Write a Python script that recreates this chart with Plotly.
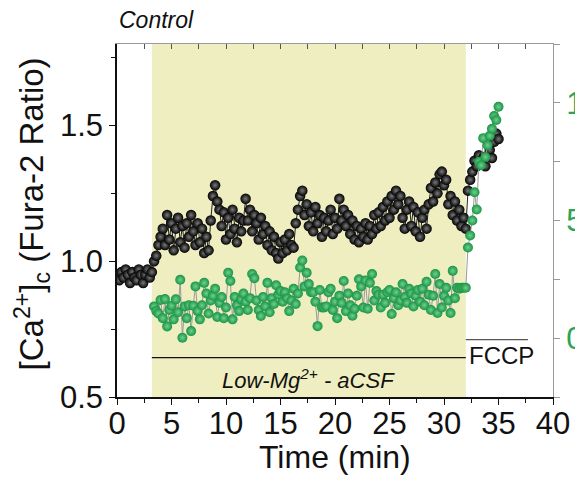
import plotly.graph_objects as go

# Fura-2 ratio, sampled every 0.2 min from t = 0
ratio_step = 0.2
ratio = [
    0.95, 0.93, 0.96, 0.94, 0.97, 0.95, 0.92, 0.96, 0.94, 0.93, 0.97, 0.95, 0.92, 0.95, 0.97, 0.94,
    0.96, 1.00, 1.02, 1.06, 1.09,
    1.12, 1.06, 1.17, 1.08, 1.14, 1.04, 1.12, 1.16, 1.07, 1.13, 1.05, 1.14, 1.09, 1.17, 1.11, 1.06,
    1.14, 1.07, 1.12, 1.03, 1.09, 1.04,
    1.15, 1.24, 1.28, 1.22, 1.19,
    1.13, 1.18, 1.08, 1.16, 1.10, 1.19, 1.12, 1.07, 1.16, 1.11, 1.15,
    1.23, 1.15, 1.19, 1.11, 1.17, 1.14, 1.08, 1.16, 1.10, 1.13, 1.06, 1.11, 1.04, 1.09, 1.03, 1.01,
    1.07, 1.03, 1.08, 1.04, 1.10, 1.06, 1.05,
    1.14, 1.19, 1.24, 1.26, 1.17, 1.21, 1.13, 1.18, 1.11, 1.20, 1.14, 1.17, 1.09, 1.16, 1.11, 1.15,
    1.19, 1.10, 1.16, 1.12,
    1.23, 1.15, 1.19, 1.13, 1.17, 1.10, 1.15, 1.08, 1.13, 1.07, 1.12, 1.09, 1.14, 1.08, 1.13, 1.10,
    1.17, 1.12, 1.18, 1.13, 1.20, 1.15, 1.22, 1.16, 1.24, 1.19,
    1.26, 1.21, 1.24, 1.16, 1.12, 1.19, 1.22, 1.13, 1.20, 1.11, 1.18, 1.09, 1.16, 1.19, 1.12, 1.21,
    1.27, 1.22, 1.29, 1.25, 1.32, 1.33, 1.28, 1.30, 1.21, 1.24, 1.17, 1.22, 1.15, 1.19, 1.13, 1.16,
    1.12,
    1.26, 1.30, 1.33, 1.37, 1.35, 1.39, 1.36, 1.38, 1.35, 1.39, 1.41, 1.38, 1.44, 1.47, 1.45,
]

# Second indicator (right axis), sampled every 0.2 min from t = 3.4
green_start = 3.4
green_step = 0.2
green = [
    1.35, 1.15, 1.05, 1.62, 0.85, 1.66, 0.50, 1.20, 1.38, 0.80, 1.65, 1.10,
    2.48, 0.02, 1.35, 0.85, 1.40, 0.30, 1.38, 2.20, 1.15, 0.80, 1.40,
    2.35, 1.90, 1.05, 1.60, 1.80, 2.10, 0.90, 1.50, 1.75, 0.85, 1.30,
    2.78, 2.43, 0.80, 1.75, 1.40, 1.15, 1.65, 1.90, 1.55, 1.20, 1.70,
    2.73, 2.55, 1.60, 1.20, 0.94, 1.75, 1.35, 2.35, 1.10, 1.70, 1.45,
    2.25, 1.85, 2.00, 1.55, 1.95, 1.70, 1.15, 1.60, 2.10, 1.45, 1.90,
    3.00, 3.30, 2.20, 2.78, 2.30, 1.95, 1.95, 1.55, 0.51, 2.05, 1.30,
    1.30, 1.35, 1.95, 2.10, 1.20, 1.55, 0.85, 1.80, 1.50, 2.43, 1.15,
    1.90, 1.40, 0.95, 1.25, 1.80, 2.50, 2.20, 1.30, 2.45, 1.25, 2.35,
    2.73, 1.60, 2.00, 1.85, 1.30, 1.85, 1.50, 1.95, 2.05, 1.03, 1.70,
    1.95, 1.40, 1.60, 2.30, 1.75, 1.50, 2.10, 1.90, 1.35, 1.80, 2.05,
    1.55, 2.10, 1.40, 2.40, 1.85, 1.20, 1.80, 2.73, 1.07, 2.30, 1.30,
    1.80, 2.14, 1.60, 1.07, 2.86, 1.70, 2.14, 2.10, 2.14, 2.14, 2.14,
    3.85, 4.36, 5.00, 6.20, 5.47, 7.50, 7.35, 8.50, 7.70, 8.20, 8.60, 8.90, 9.44, 9.27, 9.83,
]

# Treatment windows (min)
low_mg_window = [3.2, 32.0]
fccp_window = [32.0, 37.7]

t_ratio = [round(i * ratio_step, 2) for i in range(len(ratio))]
t_green = [round(green_start + i * green_step, 2) for i in range(len(green))]

FONT = "Liberation Sans, Arial, sans-serif"
GREEN = "#2ea351"
AXIS_GREY = "#9a9a9a"
TICK_SIZE = 31

fig = go.Figure()

fig.add_trace(go.Scatter(
    x=t_ratio, y=ratio, mode="lines+markers",
    line=dict(color="#222222", width=1),
    marker=dict(size=10.5, color="#000000",
                gradient=dict(type="radial", color="#7a7a7a"),
                line=dict(width=0)),
    showlegend=False, hoverinfo="skip",
))

fig.add_trace(go.Scatter(
    x=t_green, y=green, mode="lines+markers", yaxis="y2",
    line=dict(color="#9a9a9a", width=1),
    marker=dict(size=10, color="#1a9444",
                gradient=dict(type="radial", color="#6fd08f"),
                line=dict(width=0)),
    showlegend=False, hoverinfo="skip",
))

# Empty trace that registers the top (mirror) axis
fig.add_trace(go.Scatter(
    x=[0, 40], y=[None, None], xaxis="x2", mode="lines",
    showlegend=False, hoverinfo="skip",
))

shapes = [
    dict(type="rect", xref="x", yref="y", x0=low_mg_window[0], x1=low_mg_window[1],
         y0=0.5, y1=1.8, fillcolor="#efeec0", line=dict(width=0), layer="below"),
    dict(type="line", xref="x", yref="y", x0=low_mg_window[0], x1=low_mg_window[1],
         y0=0.645, y1=0.645, line=dict(color="#111111", width=1.2)),
    dict(type="line", xref="x", yref="y", x0=fccp_window[0], x1=fccp_window[1],
         y0=0.711, y1=0.711, line=dict(color="#555555", width=1.2)),
]

annotations = [
    dict(text="<i>Low-Mg<sup>2+</sup> - aCSF</i>", xref="x", yref="y",
         x=(low_mg_window[0] + low_mg_window[1]) / 2, y=0.565, showarrow=False,
         font=dict(family=FONT, size=22, color="#111111")),
    dict(text="FCCP", xref="x", yref="y", x=fccp_window[0] + 0.1, y=0.654,
         xanchor="left", showarrow=False,
         font=dict(family=FONT, size=24, color="#111111")),
    dict(text="<i>Control</i>", xref="paper", yref="paper", x=0.0, y=1.068,
         xanchor="left", yanchor="middle", showarrow=False,
         font=dict(family=FONT, size=23, color="#111111")),
    dict(text="Time (min)", xref="paper", yref="paper", x=0.5, y=-0.17,
         xanchor="center", yanchor="middle", showarrow=False,
         font=dict(family=FONT, size=32, color="#111111")),
    dict(text="[Ca<sup>2+</sup>]<sub>c</sub> (Fura-2 Ratio)", xref="paper", yref="paper",
         x=-0.195, y=0.52, xanchor="center", yanchor="middle", textangle=-90,
         showarrow=False, font=dict(family=FONT, size=33, color="#111111")),
]

fig.update_layout(
    width=575, height=482,
    margin=dict(l=116.5, r=21.5, t=44, b=84.5),
    paper_bgcolor="white", plot_bgcolor="white",
    font=dict(family=FONT, color="#111111"),
    shapes=shapes, annotations=annotations,
    xaxis=dict(
        range=[0, 40], tick0=0, dtick=5, showgrid=False, zeroline=False,
        showline=True, linecolor="#111111", linewidth=1.5,
        ticks="outside", ticklen=6, tickwidth=1.2, tickcolor="#111111",
        minor=dict(dtick=2.5, ticks="outside", ticklen=4, tickwidth=1, tickcolor="#111111"),
        tickfont=dict(family=FONT, size=TICK_SIZE, color="#111111"),
        ticklabelstandoff=-8,
        automargin=False,
    ),
    xaxis2=dict(
        range=[0, 40], overlaying="x", side="top", anchor="y",
        tick0=0, dtick=2.5, showgrid=False, zeroline=False, showticklabels=False,
        showline=True, linecolor=AXIS_GREY, linewidth=1.2,
        ticks="inside", ticklen=5, tickwidth=1, tickcolor="#555555",
        automargin=False,
    ),
    yaxis=dict(
        range=[0.5, 1.8], tick0=0.5, dtick=0.5, showgrid=False, zeroline=False,
        showline=True, linecolor="#111111", linewidth=1.5,
        ticks="outside", ticklen=6, tickwidth=1.2, tickcolor="#111111",
        minor=dict(dtick=0.25, tick0=0.5, ticks="outside", ticklen=4, tickwidth=1,
                   tickcolor="#111111"),
        tickformat=".1f",
        tickfont=dict(family=FONT, size=TICK_SIZE, color="#111111"),
        automargin=False,
    ),
    yaxis2=dict(
        range=[-2.5, 12.5], overlaying="y", side="right", anchor="x",
        tick0=0, dtick=5, showgrid=False, zeroline=False,
        showline=True, linecolor=AXIS_GREY, linewidth=1.2,
        ticks="outside", ticklen=6, tickwidth=1, tickcolor=AXIS_GREY,
        minor=dict(dtick=2.5, tick0=0, ticks="outside", ticklen=6, tickwidth=1,
                   tickcolor=AXIS_GREY),
        tickfont=dict(family=FONT, size=TICK_SIZE, color=GREEN),
        automargin=False,
    ),
)

fig.write_html("out.html")
